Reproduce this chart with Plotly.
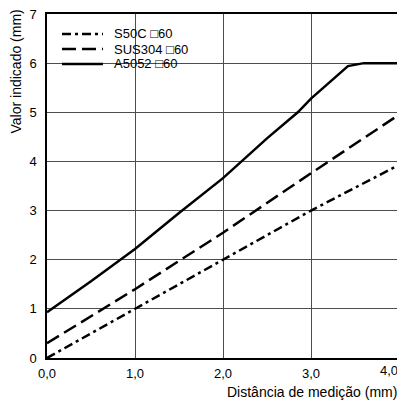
import plotly.graph_objects as go

# 측정 거리 (mm) / 지시값 (mm)
x_s50c = [0.0, 1.0, 2.0, 3.0, 4.0]
y_s50c = [0.0, 1.0, 2.0, 3.0, 3.93]

x_sus304 = [0.0, 1.0, 2.0, 3.0, 4.0]
y_sus304 = [0.3, 1.4, 2.55, 3.76, 4.95]

x_a5052 = [0.0, 0.5, 1.0, 1.5, 2.0, 2.5, 2.85, 3.0, 3.42, 3.6, 4.0]
y_a5052 = [0.93, 1.56, 2.22, 2.95, 3.66, 4.47, 5.0, 5.28, 5.94, 6.0, 6.0]

x_tickvals = [0, 1, 2, 3]
x_ticktext = ["0,0", "1,0", "2,0", "3,0"]
# 오른쪽 끝 라벨은 보조 축에서 왼쪽으로 조금 밀어서 그림
x_end_tickvals = [4]
x_end_ticktext = ["4,0"]

names = ["S50C \u25a160", "SUS304 \u25a160", "A5052 \u25a160"]
dashes = ["9px,4px,3px,4px", "14px,6px", "solid"]

FONT = "Liberation Sans, Arial, DejaVu Sans, sans-serif"

fig = go.Figure()

series = [(x_s50c, y_s50c), (x_sus304, y_sus304), (x_a5052, y_a5052)]
for (xs, ys), name, dash in zip(series, names, dashes):
    fig.add_trace(go.Scatter(
        x=xs, y=ys, name=name, mode="lines", showlegend=False,
        line=dict(color="black", width=2.5, dash=dash)
    ))

# 보조 x축이 그려지도록 빈 트레이스 추가
fig.add_trace(go.Scatter(x=[], y=[], xaxis="x2", yaxis="y", mode="lines",
                         showlegend=False, hoverinfo="skip"))

tickfont = dict(size=13, color="black", family=FONT)
axis_common = dict(
    showgrid=True, gridcolor="#4d4d4d", gridwidth=1,
    showline=True, linecolor="black", linewidth=1.5, mirror=True,
    zeroline=False, ticks="", automargin=False, tickfont=tickfont,
)

fig.update_layout(
    xaxis=dict(range=[0, 4], tickvals=x_tickvals, ticktext=x_ticktext,
               ticklabelstandoff=3, **axis_common),
    xaxis2=dict(range=[0, 4], overlaying="x", anchor="y", side="bottom",
                tickvals=x_end_tickvals, ticktext=x_end_ticktext,
                ticklabelshift=-10, ticklabelstandoff=3,
                ticklabeloverflow="allow",
                showgrid=False, showline=False, zeroline=False, ticks="",
                automargin=False, tickfont=tickfont),
    yaxis=dict(range=[0, 7], dtick=1, ticklabelstandoff=6,
               ticklabeloverflow="allow", **axis_common),
)

# 범례 (수동): 흰 배경 상자 + 선 샘플 + 텍스트
fig.add_shape(type="rect", xref="paper", yref="paper",
              x0=0.0227, x1=0.46, y0=0.808, y1=0.962,
              fillcolor="white", line=dict(width=0), layer="between")
legend_rows = [0.942, 0.898, 0.855]
for row, name, dash in zip(legend_rows, names, dashes):
    fig.add_shape(type="line", xref="paper", yref="paper",
                  x0=0.0426, x1=0.159, y0=row, y1=row,
                  line=dict(color="black", width=2.5, dash=dash))
    fig.add_annotation(text=name, showarrow=False, xref="paper", yref="paper",
                       x=0.185, y=row, xanchor="left", yanchor="middle",
                       font=dict(size=13, color="black", family=FONT))

fig.add_annotation(
    text="Valor indicado (mm)", textangle=-90, showarrow=False,
    xref="paper", yref="paper", x=-0.088, y=0.833, xanchor="center", yanchor="middle",
    font=dict(size=14, color="black", family=FONT)
)
fig.add_annotation(
    text="Distância de medição (mm)", showarrow=False,
    xref="paper", yref="paper", x=1.0, y=-0.098, xanchor="right", yanchor="middle",
    xshift=-1, borderpad=0, font=dict(size=14, color="black", family=FONT)
)

# 페이지 body 기본 여백(8px)을 감안한 크기/여백
fig.update_layout(
    width=397, height=395,
    margin=dict(l=39, r=6, t=6, b=45),
    plot_bgcolor="white", paper_bgcolor="white",
    showlegend=False,
)

fig.write_html("out.html")
